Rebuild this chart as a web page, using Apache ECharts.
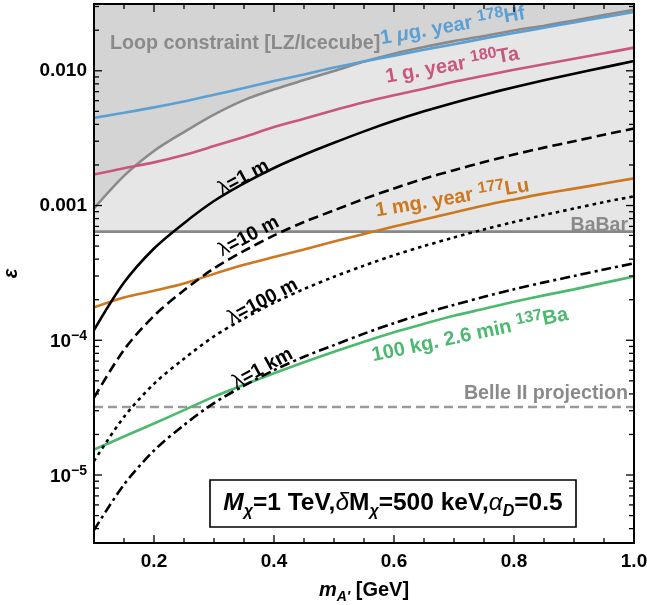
<!DOCTYPE html>
<html><head><meta charset="utf-8">
<script src="https://cdn.jsdelivr.net/npm/echarts@6/dist/echarts.min.js"></script>
<style>html,body{margin:0;padding:0;background:#fff}#c{width:647px;height:605px}</style>
</head><body><div id="c"></div>
<script>
// ---------- data ----------
const mA = [0.1,0.15,0.2,0.25,0.3,0.35,0.4,0.45,0.5,0.55,0.6,0.65,0.7,0.75,0.8,0.85,0.9,0.95,1.0];
const loopLZ = [0.000953,0.00166,0.00254,0.00351,0.00473,0.00606,0.00728,0.00853,0.00995,0.0117,0.0134,0.0150,0.0166,0.0181,0.0199,0.0216,0.0236,0.0259,0.0284];
const hf178 = [0.00447,0.00488,0.00535,0.00592,0.00664,0.00744,0.0084,0.00939,0.01056,0.01171,0.01296,0.01431,0.01576,0.01733,0.01904,0.02088,0.02284,0.02498,0.02727];
const ta180 = [0.00170,0.00189,0.00209,0.00237,0.00276,0.00323,0.00382,0.00441,0.00510,0.00584,0.00658,0.00736,0.00829,0.00918,0.01017,0.01117,0.01227,0.01348,0.01485];
const lambda1m = [1.19e-4,2.68e-4,4.8e-4,7.4e-4,1.08e-3,1.46e-3,1.9e-3,2.38e-3,2.92e-3,3.55e-3,4.25e-3,5.0e-3,5.8e-3,6.65e-3,7.55e-3,8.5e-3,9.5e-3,1.06e-2,1.18e-2];
const lambda10m = [3.75e-5,8.5e-5,1.52e-4,2.35e-4,3.42e-4,4.6e-4,6.0e-4,7.55e-4,9.2e-4,1.12e-3,1.34e-3,1.58e-3,1.83e-3,2.1e-3,2.39e-3,2.69e-3,3.0e-3,3.35e-3,3.73e-3];
const lambda100m = [1.27e-5,2.7e-5,4.75e-5,7.3e-5,1.07e-4,1.45e-4,1.9e-4,2.4e-4,2.96e-4,3.58e-4,4.27e-4,5.0e-4,5.8e-4,6.65e-4,7.55e-4,8.5e-4,9.5e-4,1.06e-3,1.17e-3];
const lambda1km = [3.9e-6,8.5e-6,1.52e-5,2.35e-5,3.42e-5,4.6e-5,6.0e-5,7.55e-5,9.2e-5,1.12e-4,1.34e-4,1.58e-4,1.83e-4,2.1e-4,2.39e-4,2.69e-4,3.0e-4,3.35e-4,3.72e-4];
const lu177 = [1.755e-4,2.08e-4,2.33e-4,2.64e-4,3.11e-4,3.63e-4,4.15e-4,4.72e-4,5.41e-4,6.15e-4,6.99e-4,7.88e-4,8.87e-4,1.0e-3,1.11e-3,1.225e-3,1.335e-3,1.455e-3,1.59e-3];
const ba137 = [1.545e-5,1.93e-5,2.41e-5,3.03e-5,3.82e-5,4.68e-5,5.69e-5,6.87e-5,8.22e-5,9.75e-5,1.147e-4,1.325e-4,1.519e-4,1.711e-4,1.929e-4,2.154e-4,2.387e-4,2.667e-4,2.97e-4];
const babarLimit = 6.4e-4;
const belle2Limit = 3.2e-5;
const xRange = [0.1, 1.0];
const yRange = [3.13e-6, 0.0313];
const xTickMajor = [0.2,0.4,0.6,0.8];
const xTickMinor = [0.15,0.25,0.3,0.35,0.45,0.5,0.55,0.65,0.7,0.75,0.85,0.9,0.95];
const xTickLabels = [0.2,0.4,0.6,0.8,1.0];
const yTickMajor = [1e-5,1e-4,1e-3,1e-2];
const yTickMinor = [4e-6,5e-6,6e-6,7e-6,8e-6,9e-6,2e-5,3e-5,4e-5,5e-5,6e-5,7e-5,8e-5,9e-5,2e-4,3e-4,4e-4,5e-4,6e-4,7e-4,8e-4,9e-4,2e-3,3e-3,4e-3,5e-3,6e-3,7e-3,8e-3,9e-3,2e-2,3e-2];
const yTickLabels = ['{b|10}{sup|\u22125}','{b|10}{sup|\u22124}','{n|0.001}','{n|0.010}'];

// ---------- styling ----------
const FF = '"Liberation Sans", Arial, Helvetica, sans-serif';
const C = {blue:'#5b9fd3', pink:'#c8567f', orange:'#cd781e', green:'#4bb96e', gray:'#8a8a8a', belle:'#9a9a9a', dark:'#d4d4d4', light:'#e6e6e6'};
const pts = arr => mA.map((x,i)=>[x, arr[i]]);

function lineSeries(name, arr, color, dash, width){
  return {type:'line', name, data: pts(arr), showSymbol:false, symbol:'none', smooth:0.3,
    z:3, silent:true, lineStyle:{color, width: width||2.6, type: dash||'solid', cap:'butt'}};
}

const option = {
  animation:false,
  backgroundColor:'#fff',
  grid:{left:94, right:13, top:4, bottom:62, containLabel:false, outerBoundsMode:'none'},
  xAxis:{type:'value', min:xRange[0], max:xRange[1],
    axisLine:{show:false}, axisTick:{show:false}, splitLine:{show:false},
    axisLabel:{customValues:xTickLabels, formatter:v=>Number(v).toFixed(1),
      fontSize:19, fontWeight:'bold', fontFamily:FF, color:'#000', margin:9},
    name:'{m|m}{s|A\u2032}{b| [GeV]}', nameLocation:'middle', nameGap:33,
    nameTextStyle:{rich:{
      m:{fontSize:20, fontWeight:'bold', fontStyle:'italic', fontFamily:FF, color:'#000', lineHeight:28, verticalAlign:'middle'},
      s:{fontSize:14, fontWeight:'bold', fontStyle:'italic', fontFamily:FF, color:'#000', lineHeight:28, verticalAlign:'bottom'},
      b:{fontSize:20, fontWeight:'bold', fontFamily:FF, color:'#000', lineHeight:28, verticalAlign:'middle'}}}
  },
  yAxis:{type:'log', logBase:10, min:yRange[0], max:yRange[1],
    axisLine:{show:false}, axisTick:{show:false}, splitLine:{show:false}, minorTick:{show:false},
    axisLabel:{showMinLabel:false, showMaxLabel:false, margin:7, color:'#000',
      formatter:v=>{const i=yTickMajor.findIndex(t=>Math.abs(Math.log10(t)-Math.log10(v))<0.01); return i<0?'':yTickLabels[i];},
      rich:{
        n:{fontSize:19, fontWeight:'bold', fontFamily:FF, color:'#000', lineHeight:22, verticalAlign:'middle'},
        b:{fontSize:19, fontWeight:'bold', fontFamily:FF, color:'#000', lineHeight:22, verticalAlign:'bottom'},
        sup:{fontSize:14, fontWeight:'bold', fontFamily:FF, color:'#000', lineHeight:22, verticalAlign:'top'}}},
    name:'\u03b5', nameLocation:'middle', nameGap:73, nameRotate:90,
    nameTextStyle:{fontSize:20, fontWeight:'bold', fontStyle:'italic', fontFamily:FF, color:'#000'}
  },
  series:[
    {type:'line', name:'BaBar', data:[[xRange[0],babarLimit],[xRange[1],babarLimit]], showSymbol:false, symbol:'none', z:1, silent:true,
      lineStyle:{color:'#888', width:2.6}, areaStyle:{color:C.light, opacity:1, origin:'end'}},
    {type:'line', name:'Loop', data:pts(loopLZ), showSymbol:false, symbol:'none', smooth:0.3, z:2, silent:true,
      lineStyle:{color:C.gray, width:2.6}, areaStyle:{color:C.dark, opacity:1, origin:'end'}},
    {type:'line', name:'Belle II', data:[[xRange[0],belle2Limit],[xRange[1],belle2Limit]], showSymbol:false, symbol:'none', z:3, silent:true,
      lineStyle:{color:C.belle, width:2.6, type:[9,5]}},
    lineSeries('Hf178', hf178, C.blue),
    lineSeries('Ta180', ta180, C.pink),
    lineSeries('Lu177', lu177, C.orange),
    lineSeries('Ba137', ba137, C.green),
    lineSeries('l1m', lambda1m, '#000'),
    lineSeries('l10m', lambda10m, '#000', [10,5]),
    lineSeries('l100m', lambda100m, '#000', [3.5,4]),
    lineSeries('l1km', lambda1km, '#000', [10,4,3,4])
  ]
};

const chart = echarts.init(document.getElementById('c'), null, {renderer:'canvas'});
chart.setOption(option);

// ---------- ticks, frame and annotations (anchored in data coordinates) ----------
const toPx = p => chart.convertToPixel({gridIndex:0}, p);
const deg = d => d*Math.PI/180;
const g = [];
const TICK_MAJOR = 8, TICK_MINOR = 5;
const tickStyle = {stroke:'#000', lineWidth:1.3};
function xTick(v, len){
  const b = toPx([v, yRange[0]]), t = toPx([v, yRange[1]]);
  g.push({type:'line', z:40, silent:true, shape:{x1:b[0], y1:b[1], x2:b[0], y2:b[1]-len}, style:tickStyle});
  g.push({type:'line', z:40, silent:true, shape:{x1:t[0], y1:t[1], x2:t[0], y2:t[1]+len}, style:tickStyle});
}
function yTick(v, len){
  const l = toPx([xRange[0], v]), r = toPx([xRange[1], v]);
  g.push({type:'line', z:40, silent:true, shape:{x1:l[0], y1:l[1], x2:l[0]+len, y2:l[1]}, style:tickStyle});
  g.push({type:'line', z:40, silent:true, shape:{x1:r[0], y1:r[1], x2:r[0]-len, y2:r[1]}, style:tickStyle});
}
xTickMajor.forEach(v=>xTick(v, TICK_MAJOR));
xTickMinor.forEach(v=>xTick(v, TICK_MINOR));
yTickMajor.forEach(v=>yTick(v, TICK_MAJOR));
yTickMinor.forEach(v=>yTick(v, TICK_MINOR));

function richStyles(color, fs){
  return {
    b:{fontSize:fs, fontWeight:'bold', fontFamily:FF, fill:color, lineHeight:23, verticalAlign:'bottom'},
    i:{fontSize:fs, fontWeight:'bold', fontStyle:'italic', fontFamily:FF, fill:color, lineHeight:23, verticalAlign:'bottom'},
    sup:{fontSize:16, fontWeight:'bold', fontFamily:FF, fill:color, lineHeight:23, verticalAlign:'top'},
    l:{fontSize:fs, fontWeight:'normal', fontFamily:FF, fill:color, lineHeight:23, verticalAlign:'bottom'}
  };
}
const annotations = [
  {text:'{b|Loop constraint [LZ/Icecube]}', at:[0.1267, 0.01633], rot:0, color:'#8a8a8a', align:'left', fs:19.7},
  {text:'{b|1 }{i|\u03bc}{b|g. year }{sup|178}{b|Hf}', at:[0.6973, 0.02198], rot:10, color:C.blue, fs:20},
  {text:'{b|1 g. year }{sup|180}{b|Ta}', at:[0.6967, 0.01121], rot:10, color:C.pink, fs:20},
  {text:'{b|1 mg. year }{sup|177}{b|Lu}', at:[0.6967, 0.00116], rot:9.5, color:C.orange, fs:20},
  {text:'{b|100 kg. 2.6 min }{sup|137}{b|Ba}', at:[0.7263, 1.12e-4], rot:12, color:C.green, fs:20},
  {text:'{b|BaBar}', at:[0.99, 7.29e-4], rot:0, color:'#8a8a8a', align:'right', fs:19.5},
  {text:'{b|Belle II projection}', at:[0.99, 4.1e-5], rot:0, color:'#8a8a8a', align:'right', fs:19.7},
  {text:'{l|\u03bb}{b|=1 m}', at:[0.3483, 1.655e-3], rot:28, color:'#000', fs:19.5},
  {text:'{l|\u03bb}{b|=10 m}', at:[0.3567, 6.04e-4], rot:28, color:'#000', fs:19.5},
  {text:'{l|\u03bb}{b|=100 m}', at:[0.38, 1.99e-4], rot:28, color:'#000', fs:19.5},
  {text:'{l|\u03bb}{b|=1 km}', at:[0.38, 6.34e-5], rot:28, color:'#000', fs:19.5}
];
annotations.forEach(a=>{
  const p = toPx(a.at);
  g.push({type:'text', x:p[0], y:p[1], rotation:deg(a.rot), z:30, silent:true,
    style:{text:a.text, rich:richStyles(a.color, a.fs), fill:a.color,
      align:a.align||'center', textAlign:a.align||'center', verticalAlign:'middle', textVerticalAlign:'middle'}});
});
// frame
const tl = toPx([xRange[0], yRange[1]]), br = toPx([xRange[1], yRange[0]]);
g.push({type:'rect', z:45, silent:true, shape:{x:tl[0], y:tl[1], width:br[0]-tl[0], height:br[1]-tl[1]},
  style:{fill:'none', stroke:'#000', lineWidth:2}});
// parameter box
const boxRich = {
  it:{fontSize:24.5, fontWeight:'bold', fontStyle:'italic', fontFamily:FF, fill:'#000', lineHeight:32, verticalAlign:'middle'},
  b:{fontSize:24.5, fontWeight:'bold', fontFamily:FF, fill:'#000', lineHeight:32, verticalAlign:'middle'},
  d:{fontSize:24.5, fontWeight:'normal', fontStyle:'italic', fontFamily:FF, fill:'#000', lineHeight:32, verticalAlign:'middle'},
  sub:{fontSize:16, fontWeight:'bold', fontStyle:'italic', fontFamily:FF, fill:'#000', lineHeight:32, verticalAlign:'bottom'}
};
g.push({type:'rect', z:35, silent:true, shape:{x:210, y:480, width:366, height:47},
  style:{fill:'#fff', stroke:'#000', lineWidth:1.6}});
g.push({type:'text', z:36, silent:true, x:393, y:503.5,
  style:{text:'{it|M}{sub|\u03c7}{b|=1 TeV,}{d|\u03b4}{b|M}{sub|\u03c7}{b|=500 keV,}{d|\u03b1}{sub|D}{b|=0.5}', rich:boxRich,
    align:'center', textAlign:'center', verticalAlign:'middle', textVerticalAlign:'middle'}});
chart.setOption({graphic:g});
</script></body></html>
